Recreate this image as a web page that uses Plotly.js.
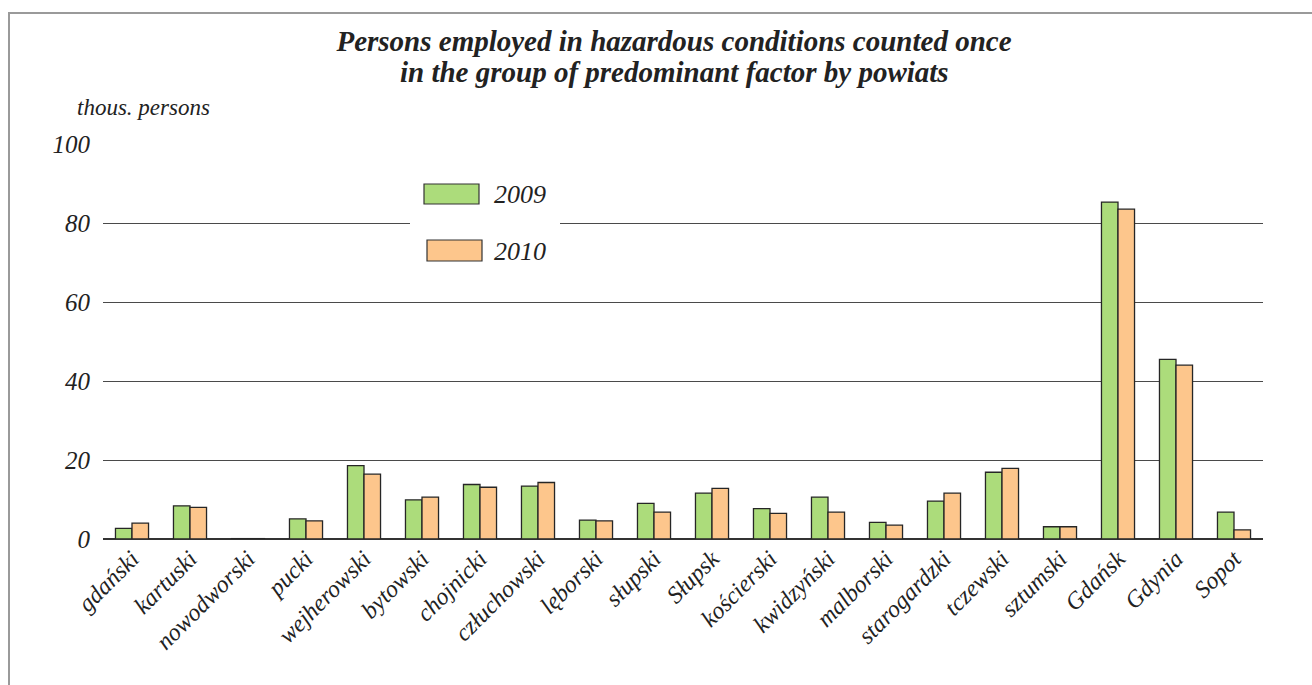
<!DOCTYPE html>
<html>
<head>
<meta charset="utf-8">
<script src="https://cdn.plot.ly/plotly-3.0.1.min.js"></script>
<style>
html,body{margin:0;padding:0;background:#fff;}
#frame{position:absolute;left:8px;top:12px;width:1400px;height:800px;border:2px solid #9a9a9a;box-sizing:border-box;}
#chart{position:absolute;left:0;top:0;width:1312px;height:685px;}
</style>
</head>
<body>
<div id="frame"></div>
<div id="chart"></div>
<script>
const categories = ["gdański","kartuski","nowodworski","pucki","wejherowski","bytowski","chojnicki","człuchowski","lęborski","słupski","Słupsk","kościerski","kwidzyński","malborski","starogardzki","tczewski","sztumski","Gdańsk","Gdynia","Sopot"];
const values2009 = [2.7, 8.4, 0.1, 5.1, 18.6, 9.9, 13.8, 13.4, 4.8, 9.0, 11.6, 7.7, 10.6, 4.2, 9.6, 16.9, 3.1, 85.3, 45.5, 6.8];
const values2010 = [4.0, 8.0, 0.1, 4.6, 16.4, 10.6, 13.1, 14.3, 4.6, 6.8, 12.8, 6.5, 6.8, 3.5, 11.6, 17.9, 3.1, 83.5, 44.0, 2.3];
const seriesNames = ["2009", "2010"];
const yTicks = [0, 20, 40, 60, 80, 100];

const FONT = "Liberation Serif, Times New Roman, serif";
const green = "#acdc7b";
const orange = "#fdc68c";

// plot area in pixels: x 103..1263, y 144..539
const L = 103, R = 1263, T = 144, B = 539;
const px = x => (x - L) / (R - L);
const py = y => (B - y) / (B - T);

const traces = [
  {type: "bar", name: seriesNames[0], x: categories, y: values2009,
   marker: {color: green, line: {color: "#262626", width: 1.3}}, showlegend: false, hoverinfo: "x+y"},
  {type: "bar", name: seriesNames[1], x: categories, y: values2010,
   marker: {color: orange, line: {color: "#262626", width: 1.3}}, showlegend: false, hoverinfo: "x+y"}
];

const layout = {
  width: 1312, height: 685,
  margin: {l: L, r: 1312 - R, t: T, b: 685 - B},
  paper_bgcolor: "rgba(0,0,0,0)",
  plot_bgcolor: "rgba(0,0,0,0)",
  barmode: "group",
  bargap: 0.43,
  bargroupgap: 0,
  font: {family: FONT, color: "#222"},
  title: {
    text: "<b><i>Persons employed in hazardous conditions counted once</i></b>",
    font: {family: FONT, size: 29, color: "#222"},
    x: px(674), xref: "paper", xanchor: "center",
    y: 1 - 41 / 685, yref: "container", yanchor: "middle"
  },
  xaxis: {
    type: "category",
    tickangle: -45,
    tickfont: {family: FONT, size: 24, color: "#222"},
    tickprefix: "<i>", ticksuffix: "</i>",
    showgrid: false, showline: false, ticks: "", zeroline: false,
    automargin: false, fixedrange: true
  },
  yaxis: {
    range: [0, 100],
    tickvals: yTicks,
    ticktext: yTicks.map(v => "<i>" + v + "</i>"),
    tickfont: {family: FONT, size: 25, color: "#222"},
    showgrid: true, gridcolor: "#4a4a4a", gridwidth: 1,
    zeroline: true, zerolinecolor: "#333", zerolinewidth: 2.5,
    showline: false, ticks: "", ticklabelstandoff: 12,
    automargin: false, fixedrange: true
  },
  shapes: [
    {type: "rect", xref: "paper", yref: "paper", x0: px(410), x1: px(560), y0: py(272), y1: py(176),
     fillcolor: "#ffffff", line: {width: 0}, layer: "above"},
    {type: "rect", xref: "paper", yref: "paper", x0: px(424), x1: px(479), y0: py(204), y1: py(184),
     fillcolor: green, line: {color: "#333", width: 1.2}, layer: "above"},
    {type: "rect", xref: "paper", yref: "paper", x0: px(427), x1: px(482), y0: py(261), y1: py(240),
     fillcolor: orange, line: {color: "#333", width: 1.2}, layer: "above"}
  ],
  annotations: [
    {text: "<b><i>in the group of predominant factor by powiats</i></b>", xref: "paper", yref: "paper",
     x: px(674), y: py(72), xanchor: "center", yanchor: "middle", showarrow: false,
     font: {family: FONT, size: 29, color: "#222"}},
    {text: "<i>thous. persons</i>", xref: "paper", yref: "paper", x: px(75), y: py(108),
     xanchor: "left", yanchor: "middle", showarrow: false, font: {family: FONT, size: 23, color: "#222"}},
    {text: "<i>" + seriesNames[0] + "</i>", xref: "paper", yref: "paper", x: px(492), y: py(194),
     xanchor: "left", yanchor: "middle", showarrow: false, font: {family: FONT, size: 26, color: "#222"}},
    {text: "<i>" + seriesNames[1] + "</i>", xref: "paper", yref: "paper", x: px(492), y: py(251),
     xanchor: "left", yanchor: "middle", showarrow: false, font: {family: FONT, size: 26, color: "#222"}}
  ]
};

Plotly.newPlot("chart", traces, layout, {displayModeBar: false, staticPlot: true});
</script>
</body>
</html>
